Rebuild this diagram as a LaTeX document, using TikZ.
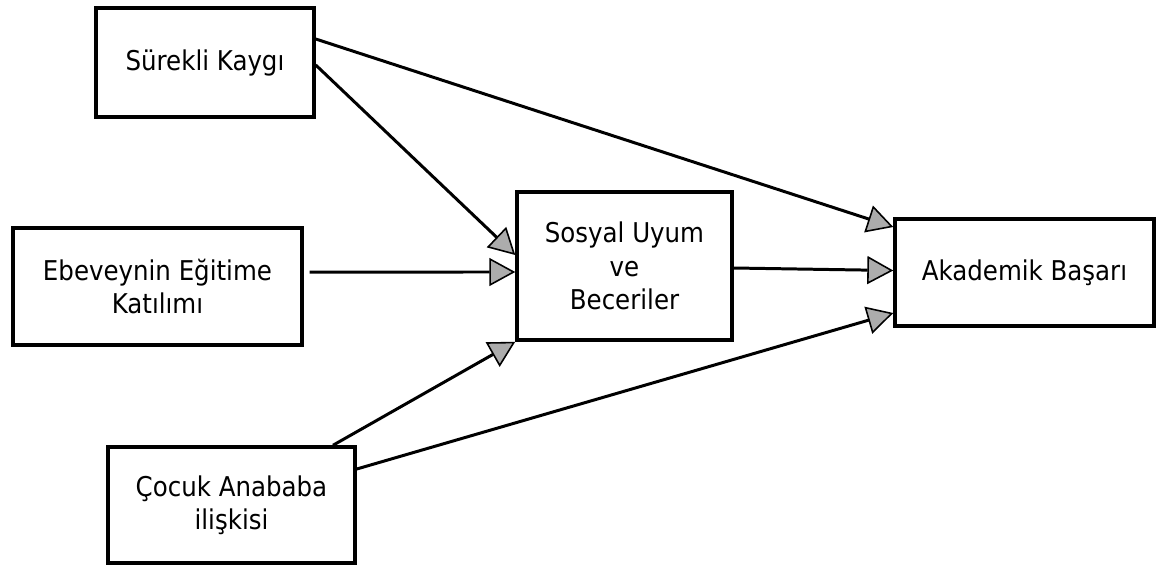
\documentclass[tikz,border=0pt]{standalone}
\usepackage{fontspec}
\setmainfont{DejaVu Sans Condensed}
\usetikzlibrary{arrows.meta,calc}
\begin{document}
\begin{tikzpicture}[x=0.02cm,y=-0.02cm,
  box/.style={draw=black, line width=2pt, fill=white, align=center,
    font=\fontsize{15.5}{19}\selectfont, inner sep=2pt},
  conn/.style={draw=black, line width=1.7pt,
    -{Triangle[length=0.52cm,width=0.56cm,line width=0.9pt,fill=gray!65]}}]
\useasboundingbox[fill=white] (0,0) rectangle (1158,565);

\node[box, minimum width=4.36cm, minimum height=2.18cm] (K) at (205,62.5) {Sürekli Kaygı};
\node[box, minimum width=5.78cm, minimum height=2.34cm] (E) at (157.5,286.5) {Ebeveynin Eğitime\\Katılımı};
\node[box, minimum width=4.30cm, minimum height=2.96cm] (S) at (624.5,266) {Sosyal Uyum\\ve\\Beceriler};
\node[box, minimum width=5.18cm, minimum height=2.14cm] (A) at (1024.5,272.5) {Akademik Başarı};
\node[box, minimum width=4.94cm, minimum height=2.32cm] (C) at (231.5,505) {Çocuk Anababa\\ilişkisi};

\draw[conn] ([yshift=0.47cm]K.east) -- ([yshift=0.91cm]A.west);
\draw[conn] ([yshift=-0.05cm]K.east) -- ([yshift=0.22cm]S.west);
\draw[conn, shorten <=0.12cm] ([yshift=0.29cm]E.east) -- ([yshift=-0.12cm]S.west);
\draw[conn] ([xshift=2.03cm]C.north) -- (S.south west);
\draw[conn] ([yshift=0.72cm]C.east) -- ([yshift=-0.81cm]A.west);
\draw[conn] ([yshift=-0.04cm]S.east) -- ([yshift=0.04cm]A.west);
\end{tikzpicture}
\end{document}
